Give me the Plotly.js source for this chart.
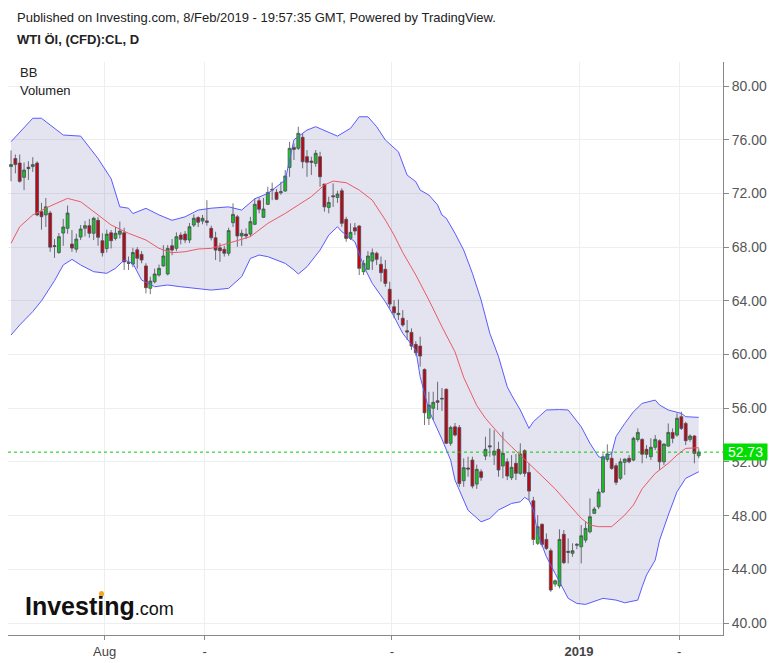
<!DOCTYPE html>
<html>
<head>
<meta charset="utf-8">
<script src="https://cdn.plot.ly/plotly-3.0.1.min.js"></script>
<style>
html,body{margin:0;padding:0;background:#fff;}
#chart{width:777px;height:663px;}
</style>
</head>
<body>
<div id="chart"></div>
<script>
// ---- data ----
const dates = [
"2018-07-03","2018-07-04","2018-07-05","2018-07-06","2018-07-09","2018-07-10","2018-07-11","2018-07-12","2018-07-13","2018-07-16",
"2018-07-17","2018-07-18","2018-07-19","2018-07-20","2018-07-23","2018-07-24","2018-07-25","2018-07-26","2018-07-27","2018-07-30",
"2018-07-31","2018-08-01","2018-08-02","2018-08-03","2018-08-06","2018-08-07","2018-08-08","2018-08-09","2018-08-10","2018-08-13",
"2018-08-14","2018-08-15","2018-08-16","2018-08-17","2018-08-20","2018-08-21","2018-08-22","2018-08-23","2018-08-24","2018-08-27",
"2018-08-28","2018-08-29","2018-08-30","2018-08-31","2018-09-03","2018-09-04","2018-09-05","2018-09-06","2018-09-07","2018-09-10",
"2018-09-11","2018-09-12","2018-09-13","2018-09-14","2018-09-17","2018-09-18","2018-09-19","2018-09-20","2018-09-21","2018-09-24",
"2018-09-25","2018-09-26","2018-09-27","2018-09-28","2018-10-01","2018-10-02","2018-10-03","2018-10-04","2018-10-05","2018-10-08",
"2018-10-09","2018-10-10","2018-10-11","2018-10-12","2018-10-15","2018-10-16","2018-10-17","2018-10-18","2018-10-19","2018-10-22",
"2018-10-23","2018-10-24","2018-10-25","2018-10-26","2018-10-29","2018-10-30","2018-10-31","2018-11-01","2018-11-02","2018-11-05",
"2018-11-06","2018-11-07","2018-11-08","2018-11-09","2018-11-12","2018-11-13","2018-11-14","2018-11-15","2018-11-16","2018-11-19",
"2018-11-20","2018-11-21","2018-11-22","2018-11-23","2018-11-26","2018-11-27","2018-11-28","2018-11-29","2018-11-30","2018-12-03",
"2018-12-04","2018-12-05","2018-12-06","2018-12-07","2018-12-10","2018-12-11","2018-12-12","2018-12-13","2018-12-14","2018-12-17",
"2018-12-18","2018-12-19","2018-12-20","2018-12-21","2018-12-24","2018-12-25","2018-12-26","2018-12-27","2018-12-28","2018-12-31",
"2019-01-01","2019-01-02","2019-01-03","2019-01-04","2019-01-07","2019-01-08","2019-01-09","2019-01-10","2019-01-11","2019-01-14",
"2019-01-15","2019-01-16","2019-01-17","2019-01-18","2019-01-21","2019-01-22","2019-01-23","2019-01-24","2019-01-25","2019-01-28",
"2019-01-29","2019-01-30","2019-01-31","2019-02-01","2019-02-04","2019-02-05","2019-02-06","2019-02-07","2019-02-08"
];
const opens = [
74.0,74.6,74.26,73.2,73.95,74.0,74.26,70.64,70.4,70.54,
68.05,67.6,69.05,69.4,68.23,67.85,68.75,69.4,69.6,69.03,
70.0,68.48,67.9,69.07,68.65,68.96,69.07,66.85,66.74,67.8,
67.46,66.6,64.93,65.42,65.92,66.6,66.0,68.1,67.91,68.9,
68.97,68.53,69.64,70.2,69.94,69.95,69.4,68.7,67.95,67.84,
67.54,69.82,70.26,68.83,68.97,68.97,69.7,71.46,70.22,71.19,
72.25,72.08,72.05,72.18,73.94,75.43,75.36,76.18,74.74,74.41,
74.24,74.74,72.7,70.96,71.83,71.7,72.2,70.07,68.65,69.45,
69.57,66.17,66.35,66.96,67.54,66.72,66.35,64.86,63.56,62.97,
62.7,61.77,61.65,60.76,60.63,58.89,55.25,56.0,56.56,56.68,
57.41,53.39,54.62,54.57,50.6,51.55,52.14,50.35,51.27,52.44,
53.2,52.51,52.94,51.7,52.01,50.83,51.9,51.15,52.84,51.22,
49.11,45.94,47.35,46.23,45.39,42.9,42.76,46.61,45.34,45.19,
45.79,45.68,46.18,46.8,48.17,48.66,49.76,52.19,52.27,51.72,
50.78,51.97,52.27,52.14,53.68,53.68,52.94,52.39,53.09,53.58,
52.01,53.18,54.2,54.0,55.37,54.87,53.68,53.93,52.46
];
const highs = [
75.2,74.9,74.9,74.3,74.4,74.7,74.4,71.3,71.66,70.7,
68.6,69.05,70.1,71.1,69.27,69.0,69.65,69.95,70.1,70.26,
70.26,69.03,69.3,69.27,69.5,69.9,69.45,67.3,67.95,68.0,
67.7,66.8,65.8,66.4,66.7,68.15,68.15,68.6,69.1,69.1,
69.2,69.8,70.45,70.3,70.4,71.5,69.6,69.15,68.3,68.1,
69.45,71.26,70.4,69.3,69.4,70.26,71.63,71.7,71.66,72.5,
72.8,72.33,72.87,73.74,75.85,75.73,76.97,76.48,75.23,74.74,
75.23,75.1,72.7,71.76,72.75,72.2,72.38,70.26,69.77,69.8,
69.64,67.04,67.7,67.9,67.66,67.3,67.04,65.42,64.06,64.1,
63.31,62.57,61.95,61.0,61.33,58.97,57.23,57.23,57.97,57.5,
57.48,54.7,54.9,54.75,52.27,52.39,52.39,51.8,51.45,53.88,
54.5,54.37,53.5,54.25,52.27,52.51,52.6,53.39,52.94,51.9,
49.4,48.04,47.43,46.68,45.56,43.25,46.98,46.93,46.3,45.94,
45.95,47.3,47.54,49.29,48.66,50.0,52.64,53.31,52.76,51.9,
52.27,52.27,52.51,53.88,54.5,53.76,53.26,53.76,54.0,53.68,
53.39,54.87,54.5,55.62,55.74,55.0,54.06,54.0,53.01
];
const lows = [
72.9,73.5,72.8,72.25,73.0,73.6,70.3,69.3,69.5,67.65,
67.2,67.5,68.1,69.0,67.65,67.6,68.53,68.8,68.7,68.53,
68.1,67.3,67.6,67.9,68.5,68.65,66.3,66.3,66.5,66.4,
66.8,64.56,64.5,65.3,65.8,66.54,65.9,67.4,67.7,68.2,
68.3,68.3,69.5,69.5,69.7,69.6,68.5,67.04,66.9,67.3,
67.35,69.5,68.03,68.1,68.6,68.78,69.64,70.52,70.17,71.14,
71.5,71.5,71.9,72.13,73.24,74.49,75.23,73.87,73.24,73.37,
73.99,72.5,70.64,70.52,71.0,71.3,69.52,68.4,68.53,68.9,
65.92,65.92,66.3,66.3,66.67,65.42,65.05,63.44,62.7,62.57,
62.07,61.08,60.34,59.9,59.1,54.75,54.75,55.12,55.87,55.8,
53.33,53.2,53.9,50.15,50.15,50.9,50.03,50.0,50.6,52.14,
52.39,51.77,50.9,50.78,50.65,50.65,50.65,51.03,50.9,49.16,
45.81,45.81,45.68,45.44,42.33,42.7,42.58,44.39,44.44,44.94,
45.5,44.44,45.99,46.68,48.12,48.5,49.67,52.0,51.4,50.28,
50.65,51.03,51.9,52.06,53.5,51.9,52.27,52.14,52.89,51.4,
51.77,53.13,53.39,53.88,54.38,53.26,53.5,51.9,52.27
];
const closes = [
74.15,74.15,72.9,73.74,73.85,74.15,70.4,70.27,71.0,68.0,
68.1,68.78,69.5,70.54,67.93,68.6,69.35,69.6,69.03,70.15,
68.73,67.58,68.97,68.48,69.03,69.2,66.9,66.8,67.6,67.17,
67.04,64.98,65.47,66.0,66.42,67.34,67.91,67.78,68.78,68.58,
68.53,69.52,70.15,69.85,70.15,69.85,68.7,67.78,67.73,67.54,
69.23,70.44,68.83,69.03,68.83,69.9,71.19,70.82,70.84,72.08,
72.3,71.56,72.13,73.3,75.36,75.28,76.48,74.36,74.32,74.32,
74.99,73.24,71.0,71.33,71.76,71.96,69.77,68.65,69.1,69.2,
66.42,66.79,67.34,67.58,67.09,66.1,65.3,63.76,63.11,63.07,
62.2,61.68,60.63,60.13,59.89,55.66,56.24,56.44,56.44,56.73,
53.39,54.57,54.0,50.4,51.57,51.47,50.2,51.45,50.85,52.94,
53.13,52.81,51.4,52.64,50.95,51.6,51.15,52.59,51.15,49.83,
46.23,47.18,45.86,45.56,42.46,43.15,46.23,44.5,45.27,45.39,
45.86,46.5,47.05,47.92,48.49,49.76,52.39,52.6,51.52,50.48,
52.01,52.21,52.01,53.76,54.2,52.57,52.57,53.09,53.68,52.01,
53.33,54.2,53.76,55.25,54.5,53.58,53.93,52.64,52.73
];

// Bollinger band readings: trading-day number (position in `dates`) and value
const upperDay = [0,5,7,12,16,20,23,25,27,28,31,34,37,40,43,46,50,53,56,59,63,65,68,70,75,78,80,82,84,86,89,90,91,93,94,96,98,99,100,102,104,106,108,110,112,114,115,117,119,120,123,126,128,131,133,135,136,138,139,141,143,145,148,149,151,154,155,158];
const upperVal = [75.85,77.6,77.6,76.35,76.27,74.6,73.1,71.0,70.9,70.5,70.89,70.4,70.0,70.26,70.76,70.9,71.0,70.76,71.6,72.0,73.0,76.0,76.72,76.97,76.27,76.85,77.71,77.71,76.97,75.98,75.1,74.24,73.37,72.87,72.25,71.88,71.14,70.39,70.15,69.03,67.78,66.05,64.06,61.58,59.84,57.6,56.98,55.87,54.5,55.0,55.87,55.9,55.87,54.62,53.39,52.39,52.27,52.64,53.9,54.87,55.74,56.36,56.61,56.24,55.87,55.62,55.37,55.32];
const midDay = [0,2,5,9,13,16,20,23,27,31,34,37,40,43,46,50,55,59,63,66,69,72,74,77,80,83,86,88,90,93,96,99,102,104,107,109,113,115,118,121,125,128,131,133,135,138,141,143,145,148,151,153,155,158];
const midVal = [68.28,69.52,70.4,71.06,71.63,71.38,70.4,69.65,69.03,68.53,67.91,67.58,67.66,67.86,67.91,68.28,68.78,69.77,70.51,71.14,71.76,72.63,72.92,72.8,72.25,71.5,70.02,68.9,67.6,65.92,64.06,62.07,60.2,58.3,56.2,55.25,53.76,53.13,52.2,51.3,50.0,48.9,47.8,47.3,47.18,47.18,48.04,48.79,50.0,51.15,51.9,52.51,53.01,53.06];
const lowerDay = [0,2,5,7,10,12,14,16,19,22,24,26,28,30,33,36,39,43,46,50,53,55,57,59,63,65,66,68,71,73,75,76,79,81,83,86,88,90,93,94,96,97,99,101,102,103,105,108,110,112,115,117,118,119,120,121,123,125,127,128,130,132,136,139,141,144,145,146,148,149,151,153,155,158];
const lowerVal = [61.45,62.2,63.2,64.0,65.5,66.67,67.09,66.67,66.17,66.05,66.42,67.04,66.79,65.55,65.05,65.18,65.05,64.88,64.8,64.93,65.8,67.16,67.41,67.29,66.79,66.3,66.0,66.54,67.78,68.9,69.52,69.15,68.4,66.6,65.3,63.93,62.82,61.58,60.34,58.35,55.87,55.12,53.7,52.14,50.65,49.9,48.4,47.54,47.79,48.42,48.91,49.03,49.36,49.16,48.42,46.68,44.94,43.7,42.46,41.84,41.46,41.39,41.84,41.71,41.51,41.71,42.7,43.58,44.69,46.18,48.04,49.78,50.78,51.27];

const tickDates = ["2018-08-01","2018-09-03","2018-11-01","2019-01-01","2019-02-01"];
const tickText = ["Aug","-","-","<b>2019</b>","-"];
const priceTicks = [40,44,48,52,56,60,64,68,72,76,80];

// ---- chart ----
const FONT = "Liberation Sans, Arial, sans-serif";
const xIdx = dates.map((d, i) => i);
const lastClose = closes[closes.length - 1];

const traces = [
  {type:"scatter", mode:"lines", x:lowerDay, y:lowerVal, line:{color:"#5a5aff", width:1}, hoverinfo:"skip", showlegend:false},
  {type:"scatter", mode:"lines", x:upperDay, y:upperVal, line:{color:"#5a5aff", width:1}, fill:"tonexty", fillcolor:"rgba(50,50,150,0.13)", hoverinfo:"skip", showlegend:false},
  {type:"scatter", mode:"lines", x:midDay, y:midVal, line:{color:"#ea5a62", width:1}, hoverinfo:"skip", showlegend:false},
  {type:"candlestick", x:xIdx, open:opens, high:highs, low:lows, close:closes,
   increasing:{line:{color:"#505050", width:0.8}, fillcolor:"#12d812"},
   decreasing:{line:{color:"#505050", width:0.8}, fillcolor:"#d40000"},
   whiskerwidth:0, showlegend:false, hoverinfo:"skip"}
];

const px2x = p => (p - 8) / 715;
const px2y = p => (635 - p) / 573;

const layout = {
  width:777, height:663,
  margin:{l:8, r:54, t:62, b:28, pad:0},
  paper_bgcolor:"#ffffff", plot_bgcolor:"#ffffff",
  font:{family:FONT, size:13, color:"#444"},
  showlegend:false,
  dragmode:false,
  boxgap:0.05,
  xaxis:{
    type:"linear",
    range:[-0.69, 163.57],
    tickmode:"array",
    tickvals:tickDates.map(d => dates.indexOf(d) + 0.5),
    ticktext:tickText,
    ticks:"outside", ticklen:4, tickcolor:"#888",
    showgrid:true, gridcolor:"#eeeeee", gridwidth:1,
    showline:true, linecolor:"#888", linewidth:1,
    zeroline:false,
    tickfont:{family:FONT, size:13, color:"#444"},
    rangeslider:{visible:false},
    fixedrange:true
  },
  yaxis:{
    side:"right",
    range:[39.11, 81.79],
    tickmode:"array",
    tickvals:priceTicks,
    ticktext:priceTicks.map(v => v.toFixed(2)),
    ticks:"outside", ticklen:5, tickcolor:"#888",
    showgrid:true, gridcolor:"#eeeeee", gridwidth:1,
    showline:true, linecolor:"#888", linewidth:1,
    zeroline:false,
    tickfont:{family:FONT, size:14, color:"#555"},
    fixedrange:true
  },
  shapes:[
    {type:"line", xref:"paper", x0:0, x1:1, yref:"y", y0:lastClose, y1:lastClose,
     line:{color:"#00cc00", width:1, dash:"dot"}},
    {type:"circle", xref:"paper", yref:"paper", x0:px2x(99), x1:px2x(104), y0:px2y(597), y1:px2y(591),
     fillcolor:"#f5a623", line:{width:0}}
  ],
  annotations:[
    {xref:"paper", yref:"paper", x:px2x(15), y:px2y(17), xanchor:"left", yanchor:"middle", showarrow:false,
     text:"Published on Investing.com, 8/Feb/2019 - 19:57:35 GMT, Powered by TradingView.",
     font:{family:FONT, size:13, color:"#222"}},
    {xref:"paper", yref:"paper", x:px2x(15), y:px2y(40), xanchor:"left", yanchor:"middle", showarrow:false,
     text:"<b>WTI Öl, (CFD):CL, D</b>", font:{family:FONT, size:13, color:"#222"}},
    {xref:"paper", yref:"paper", x:px2x(18), y:px2y(72), xanchor:"left", yanchor:"middle", showarrow:false,
     text:"BB", font:{family:FONT, size:13, color:"#222"}},
    {xref:"paper", yref:"paper", x:px2x(18), y:px2y(91), xanchor:"left", yanchor:"middle", showarrow:false,
     text:"Volumen", font:{family:FONT, size:13, color:"#222"}},
    {xref:"paper", yref:"paper", x:px2x(23), y:px2y(606), xanchor:"left", yanchor:"middle", showarrow:false,
     text:"<b>Investing</b><span style=\"font-size:18px;font-weight:normal\">.com</span>",
     font:{family:FONT, size:25, color:"#111"}},
    {xref:"paper", yref:"y", x:1, y:lastClose, xanchor:"left", yanchor:"middle", showarrow:false,
     text:"\u00a0" + lastClose.toFixed(2) + "\u00a0", bgcolor:"#00dd00", borderpad:0,
     font:{family:FONT, size:14, color:"#ffffff"}}
  ]
};

Plotly.newPlot("chart", traces, layout, {displayModeBar:false, staticPlot:true});
</script>
</body>
</html>
